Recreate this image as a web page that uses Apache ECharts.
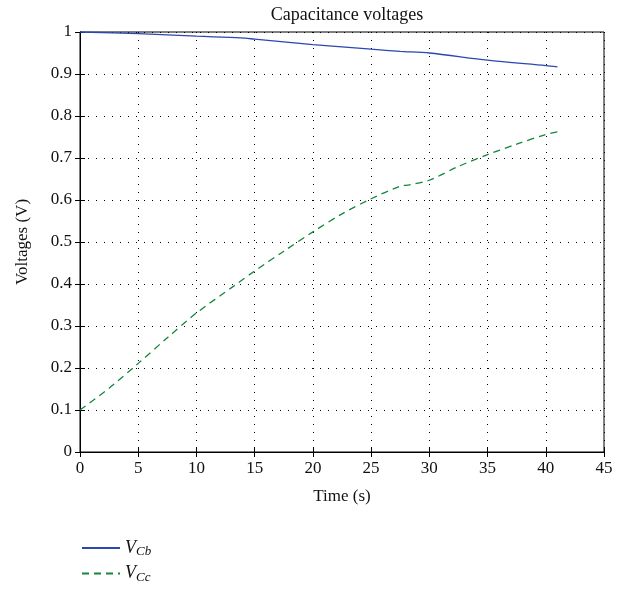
<!DOCTYPE html>
<html>
<head>
<meta charset="utf-8">
<script src="https://cdn.jsdelivr.net/npm/echarts@6/dist/echarts.min.js"></script>
<style>
  html, body { margin: 0; padding: 0; background: #fff; }
  #chart { width: 635px; height: 590px; }
</style>
</head>
<body>
<div id="chart"></div>
<script>
// values
var timeCb = [0, 5, 10, 13.8, 15, 20, 25, 27.5, 30, 35, 40, 41];
var voltCb = [1.0, 0.996, 0.990, 0.986, 0.983, 0.970, 0.959, 0.954, 0.950, 0.933, 0.920, 0.917];
var timeCc = [0, 2.5, 5, 7.5, 10, 13.2, 15, 17.5, 20, 22.5, 25, 27.5, 28.3, 30, 32.5, 35, 37.5, 40, 41];
var voltCc = [0.10, 0.152, 0.211, 0.272, 0.331, 0.395, 0.431, 0.478, 0.524, 0.567, 0.603, 0.633, 0.636, 0.647, 0.680, 0.708, 0.733, 0.756, 0.762];
var xTicks = [0, 5, 10, 15, 20, 25, 30, 35, 40, 45];
var yTicks = [0, 0.1, 0.2, 0.3, 0.4, 0.5, 0.6, 0.7, 0.8, 0.9, 1];

function pairs(xs, ys) {
  return xs.map(function (x, i) { return [x, ys[i]]; });
}

var font = 'Liberation Serif';
var chart = echarts.init(document.getElementById('chart'));

var gridLine = { show: true, lineStyle: { color: '#000', width: 1, type: [1, 7] } };
var tickIn = { show: true, inside: true, length: 5, lineStyle: { color: '#000' } };

var option = {
  backgroundColor: '#ffffff',
  animation: false,
  title: {
    text: 'Capacitance voltages',
    left: 342, top: 1, textAlign: 'center',
    textStyle: { fontFamily: font, fontSize: 18, fontWeight: 'normal', color: '#111' }
  },
  grid: { left: 80, right: 31, top: 32, bottom: 138, show: true, borderColor: '#000', borderWidth: 1 },
  legend: {
    orient: 'vertical', left: 76, top: 534,
    itemWidth: 38, itemGap: 6,
    data: ['Cb', 'Cc'],
    itemStyle: { opacity: 0 },
    formatter: function (name) { return '{v|V}{s|' + name + '}'; },
    textStyle: {
      fontFamily: font, color: '#111',
      rich: {
        v: { fontFamily: font, fontStyle: 'italic', fontSize: 18 },
        s: { fontFamily: font, fontStyle: 'italic', fontSize: 13, verticalAlign: 'bottom', padding: [8, 0, 0, 0] }
      }
    }
  },
  xAxis: [{
    type: 'value', min: 0, max: 45, interval: 5,
    name: 'Time (s)', nameLocation: 'middle', nameGap: 36,
    nameTextStyle: { fontFamily: font, fontSize: 17, color: '#111' },
    axisLine: { show: true, lineStyle: { color: '#000' } },
    axisTick: tickIn,
    axisLabel: { fontFamily: font, fontSize: 17, color: '#111', margin: 8 },
    splitLine: gridLine
  }, {
    type: 'value', min: 0, max: 45, interval: 5, position: 'top',
    axisLine: { show: true, lineStyle: { color: '#000' } },
    axisTick: tickIn, axisLabel: { show: false }, splitLine: { show: false }
  }],
  yAxis: [{
    type: 'value', min: 0, max: 1, interval: 0.1,
    name: 'Voltages (V)', nameLocation: 'middle', nameGap: 49,
    nameTextStyle: { fontFamily: font, fontSize: 17, color: '#111' },
    axisLine: { show: true, lineStyle: { color: '#000' } },
    axisTick: tickIn,
    axisLabel: { fontFamily: font, fontSize: 17, color: '#111', margin: 8 },
    splitLine: gridLine
  }, {
    type: 'value', min: 0, max: 1, interval: 0.1, position: 'right',
    axisLine: { show: true, lineStyle: { color: '#000' } },
    axisTick: tickIn, axisLabel: { show: false }, splitLine: { show: false }
  }],
  series: [{
    name: 'Cb', type: 'line', symbol: 'none', smooth: 0.3,
    color: '#2a48b0',
    lineStyle: { width: 1.3, color: '#2a48b0' },
    data: pairs(timeCb, voltCb)
  }, {
    name: 'Cc', type: 'line', symbol: 'none', smooth: 0.3,
    color: '#13873a',
    lineStyle: { width: 1.3, color: '#13873a', type: [7, 5] },
    data: pairs(timeCc, voltCc)
  }]
};
chart.setOption(option);
</script>
</body>
</html>
